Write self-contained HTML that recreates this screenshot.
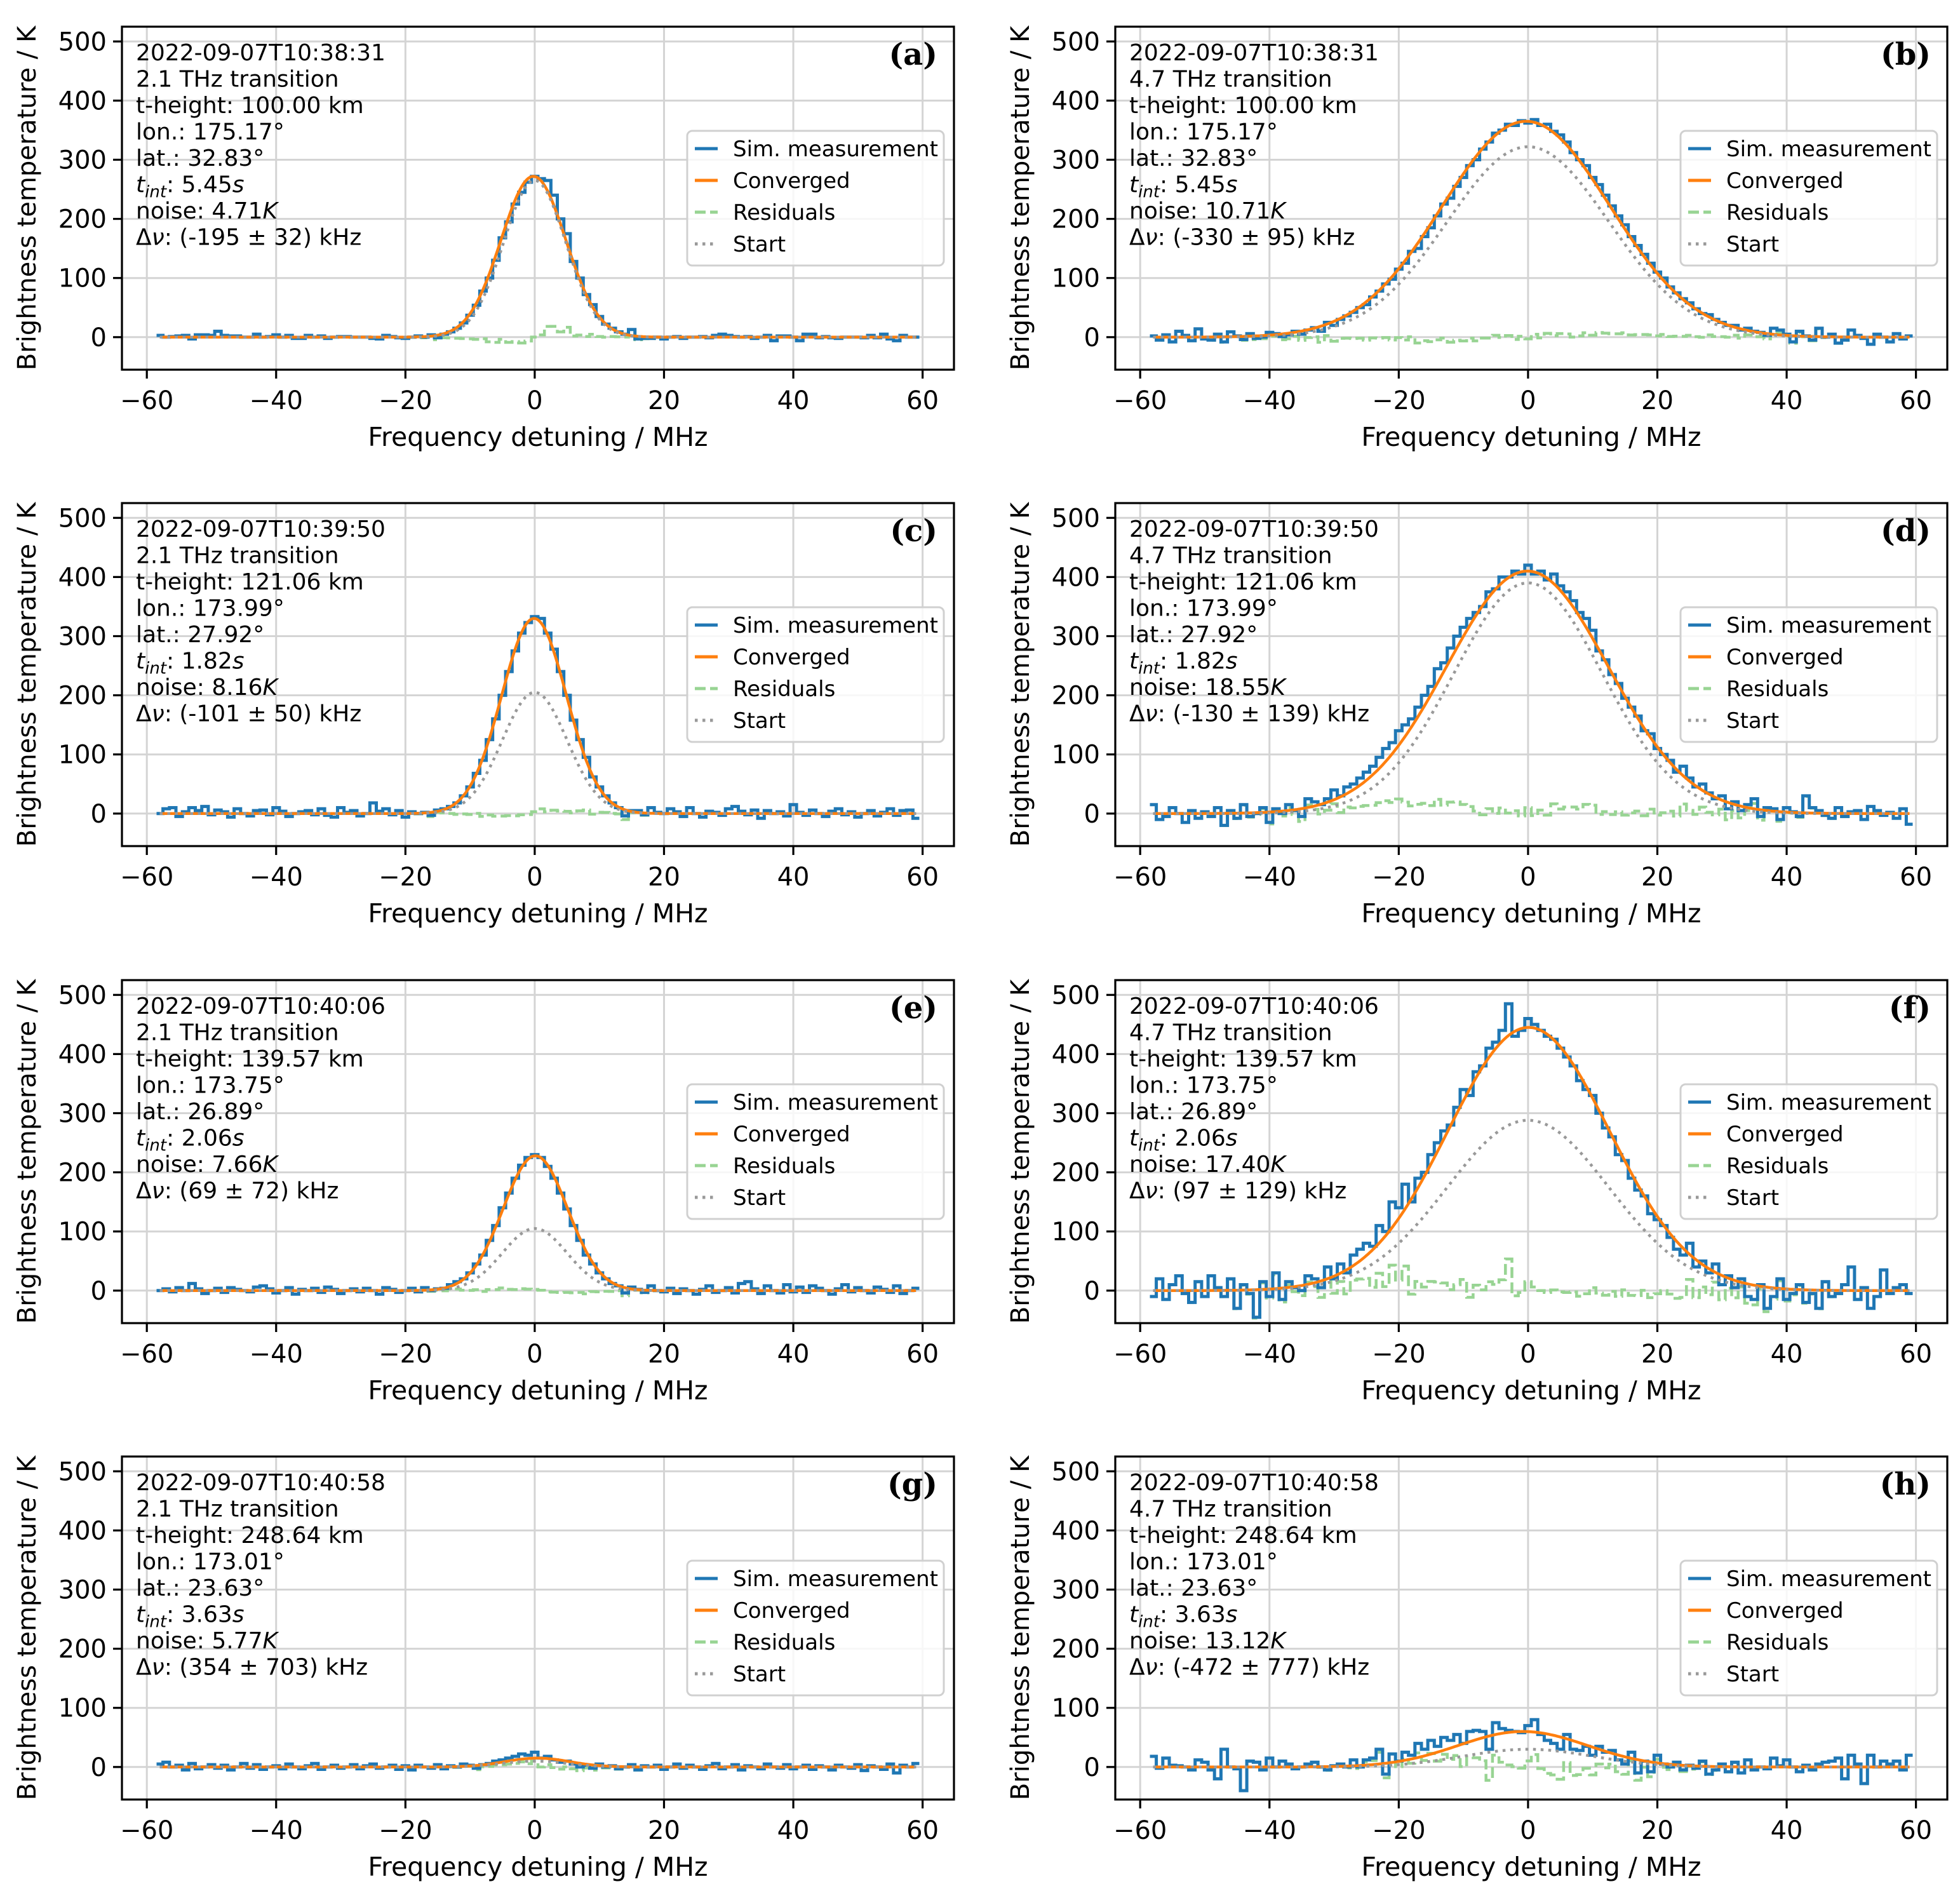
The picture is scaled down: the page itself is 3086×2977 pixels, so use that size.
<!DOCTYPE html>
<html><head><meta charset="utf-8">
<style>
html,body{margin:0;padding:0;background:#fff;}
svg{display:block;font-family:"DejaVu Sans","Liberation Sans",sans-serif;}
</style></head>
<body>
<svg id="fig" width="3086" height="2977" viewBox="0 0 3086 2977" xmlns="http://www.w3.org/2000/svg"></svg>
<script>
const binStart = -58;
const measA = [3,0,1,2,3,-3,4,4,3,10, 3,2,2,0,0,5,0,1,4,0, 3,-2,-2,3,0,2,-2,0,1,1, 0,0,0,-2,-3,3,1,-1,-2,0, 2,0,4,-1,5,9,15,24,37,54, 78,100,130,168,195,225,245,262,272,268, 265,240,200,175,128,100,72,55,35,22, 15,9,5,13,-3,-2,-2,0,-3,0, 1,-2,0,0,1,-1,3,5,3,1, 0,1,-2,0,3,-6,2,2,0,-6, 5,5,-1,1,-1,-2,0,0,0,-1, 3,-1,5,-3,-6,3,0,0];
const measB = [2,-5,4,-8,10,3,-6,14,-3,-5, 5,-8,9,2,-4,6,-2,0,8,6, 1,4,10,5,12,16,10,25,20,30, 36,42,50,55,68,78,90,98,115,125, 145,150,170,185,205,225,235,255,270,290, 300,318,330,345,350,360,358,366,362,368, 358,360,348,342,330,312,300,290,270,258, 240,222,205,190,170,155,140,125,110,100, 85,75,65,58,48,40,38,30,25,20, 20,12,15,10,8,3,15,12,5,-8, 10,2,-5,15,0,5,-10,-5,12,3, -2,-12,5,0,-8,6,-3,2];
const measC = [0,8,10,-5,3,10,5,12,-2,6, 3,-6,8,0,-4,5,6,-2,10,4, -5,0,3,5,-2,8,-3,-6,10,2, 5,-4,0,18,4,8,-2,5,-6,3, 0,2,-3,6,8,12,18,30,45,68, 90,125,160,200,240,275,305,323,333,330, 305,278,240,200,158,125,95,62,45,30, 18,10,-4,5,5,-2,10,2,0,8, 3,-5,10,0,-6,4,2,-3,8,12, 4,-2,6,-8,5,0,3,-4,15,2, -3,6,0,-5,4,8,-2,3,-6,0, 5,-4,2,8,-3,5,6,-8];
const measD = [15,-10,-5,10,0,-15,5,-8,3,-5, 10,-20,5,-8,15,-5,0,10,-15,8, 0,15,5,-5,25,20,15,25,40,30, 45,50,60,70,80,95,110,120,140,150, 160,180,200,215,245,255,280,300,315,330, 340,350,375,380,400,400,410,405,420,405, 410,395,405,385,375,360,340,330,310,275, 260,235,220,195,180,165,140,135,110,100, 90,70,80,60,45,50,35,25,30,8, 20,5,15,25,-5,10,8,-10,10,3, -5,30,10,5,-3,-8,10,-5,3,5, -10,12,5,-3,2,-8,8,-18];
const measE = [0,3,-2,5,0,12,3,-5,0,4, -3,5,2,0,-2,6,8,3,-4,0, 5,-6,2,0,4,-3,6,2,-5,0, 3,-2,4,0,-6,5,2,-3,0,4, -2,5,0,3,4,10,15,20,30,45, 60,85,110,140,165,190,212,225,230,225, 210,190,165,138,110,85,60,45,30,20, 12,8,-4,6,2,-3,8,0,-2,4, -5,3,0,-6,2,8,-3,0,5,-4, 12,15,3,-5,8,0,-4,10,-2,6, -3,8,4,0,-6,3,10,-2,5,0, -4,6,2,-3,8,-5,0,4];
const measF = [-10,20,-15,10,25,-5,-20,15,-10,25, 5,-10,20,-30,10,-5,-45,15,-10,30, -15,15,5,0,25,20,5,40,20,45, 30,60,70,80,75,110,100,150,140,180, 150,190,200,230,250,270,280,310,340,330, 370,380,410,420,440,485,430,440,460,450, 440,430,425,410,395,380,355,340,330,300, 275,260,230,220,190,170,160,130,120,110, 90,70,60,80,40,50,30,45,10,25, 5,20,-10,-15,10,-30,-10,20,-15,-5, 10,-20,-5,-30,15,-10,-5,10,40,-15, 5,-30,-10,35,-5,5,10,-5];
const measG = [5,8,0,3,-5,6,-3,0,4,-2, 3,-5,0,6,-2,4,-4,0,2,-3, 5,0,-3,2,6,-4,0,3,-2,0, 4,-3,2,5,-2,0,3,-4,2,-5, 3,0,-2,4,-3,2,0,5,3,-2, 4,6,10,12,15,18,22,20,25,15, 18,12,8,10,5,0,3,-2,5,0, 2,-3,0,4,-5,2,0,3,-4,0, 5,-2,3,0,-4,2,6,-3,0,4, -5,2,0,-3,5,0,-2,4,-3,0, 3,-4,2,0,-5,3,0,-2,4,-6, 2,0,-4,5,-10,3,0,6];
const measH = [18,-2,15,3,2,0,-5,12,8,-5, -20,30,0,-3,-40,10,8,-5,15,0, 10,5,-3,0,5,8,0,-5,2,5, 0,12,0,12,15,30,-12,22,10,25, 20,40,30,45,35,50,45,55,40,60, 62,60,30,75,65,62,60,58,70,80, 55,45,40,30,55,30,28,35,20,35, 25,28,12,5,25,-10,10,-8,20,5, 0,8,-5,3,-2,10,-12,-5,5,-8, 8,-10,12,-5,0,-3,15,2,12,0, -8,3,-5,5,8,10,15,-20,20,5, -28,20,0,10,5,10,-5,20];
const convAmp = [272,365,330,410,228,445,15,60];
const convCenter = [-0.2,-0.3,-0.1,-0.1,0.1,0.1,0.4,-0.8];
const convSigma = [5.0,13.0,5.0,12.5,5.0,12.5,5.0,10.0];
const startAmp = [265,322,205,390,105,288,10,30];
const startSigma = [4.8,12.5,5.0,11.5,5.0,12.5,5.0,10.0];
const xTicks = [-60,-40,-20,0,20,40,60];
const yTicks = [0,100,200,300,400,500];
const xTickLabels = ["\u221260","\u221240","\u221220","0","20","40","60"];
const panelLetters = ["(a)","(b)","(c)","(d)","(e)","(f)","(g)","(h)"];
const timestamps = ["2022-09-07T10:38:31","2022-09-07T10:38:31","2022-09-07T10:39:50","2022-09-07T10:39:50","2022-09-07T10:40:06","2022-09-07T10:40:06","2022-09-07T10:40:58","2022-09-07T10:40:58"];
const transitions = ["2.1","4.7","2.1","4.7","2.1","4.7","2.1","4.7"];
const heights = ["100.00","100.00","121.06","121.06","139.57","139.57","248.64","248.64"];
const lons = ["175.17","175.17","173.99","173.99","173.75","173.75","173.01","173.01"];
const lats = ["32.83","32.83","27.92","27.92","26.89","26.89","23.63","23.63"];
const tints = ["5.45","5.45","1.82","1.82","2.06","2.06","3.63","3.63"];
const noises = ["4.71","10.71","8.16","18.55","7.66","17.40","5.77","13.12"];
const dnus = ["(-195 \u00b1 32)","(-330 \u00b1 95)","(-101 \u00b1 50)","(-130 \u00b1 139)","(69 \u00b1 72)","(97 \u00b1 129)","(354 \u00b1 703)","(-472 \u00b1 777)"];
const measAll = [measA,measB,measC,measD,measE,measF,measG,measH];

const NS = "http://www.w3.org/2000/svg";
const fig = document.getElementById('fig');
function mk(tag, attrs, parent){ const e=document.createElementNS(NS,tag); for(const k in attrs) e.setAttribute(k,attrs[k]); (parent||fig).appendChild(e); return e; }
const colX = [192, 1756], rowY = [42, 792, 1543, 2293];
const W = 1310, H = 540, XMIN=-63.85, XMAX=64.85, YMIN=-55, YMAX=525;
function gauss(x,a,c,s){ return a*Math.exp(-(x-c)*(x-c)/(2*s*s)); }

for(let p=0;p<8;p++){
  const L = colX[p%2], T = rowY[Math.floor(p/2)];
  const sx = v => L + (v-XMIN)/(XMAX-XMIN)*W;
  const sy = v => T + H - (v-YMIN)/(YMAX-YMIN)*H;
  const g = mk('g',{});
  
  
  const clipId='clip'+p;
  const cp = mk('clipPath',{id:clipId},g); mk('rect',{x:L,y:T,width:W,height:H},cp);
  xTicks.forEach(t=>{ const l=mk('line',{x1:sx(t),x2:sx(t),y1:T,y2:T+H,stroke:'#d4d4d4','stroke-width':3},g);   });
  yTicks.forEach(t=>{ const l=mk('line',{x1:L,x2:L+W,y1:sy(t),y2:sy(t),stroke:'#d4d4d4','stroke-width':3},g);   });
  const m = measAll[p];
  const conv = m.map((v,i)=>gauss(binStart+i,convAmp[p],convCenter[p],convSigma[p]));
  function stepPath(vals){ let d=''; vals.forEach((v,i)=>{ const x=binStart+i; d += (i===0?'M':'L')+sx(x-0.5).toFixed(1)+','+sy(v).toFixed(1)+'L'+sx(x+0.5).toFixed(1)+','+sy(v).toFixed(1); }); return d; }
  function smoothPath(fn){ let d=''; for(let x=binStart;x<=binStart+m.length-1+0.001;x+=0.25){ d+=(d?'L':'M')+sx(x).toFixed(1)+','+sy(fn(x)).toFixed(1);} return d; }
  const cg = mk('g',{'clip-path':'url(#'+clipId+')'},g);
  const res = mk('path',{d:stepPath(m.map((v,i)=>v-conv[i])),fill:'none',stroke:'#98d493','stroke-width':4.5,'stroke-dasharray':'17,7'},cg);
   
  const ms = mk('path',{d:stepPath(m),fill:'none',stroke:'#1f77b4','stroke-width':5},cg);
   
  const cv = mk('path',{d:smoothPath(x=>gauss(x,convAmp[p],convCenter[p],convSigma[p])),fill:'none',stroke:'#ff7f0e','stroke-width':4.5},cg);
   
  const st = mk('path',{d:smoothPath(x=>gauss(x,startAmp[p],0,startSigma[p])),fill:'none',stroke:'#999999','stroke-width':4.5,'stroke-dasharray':'4.5,7.5'},cg);
   
  const fr = mk('rect',{x:L,y:T,width:W,height:H,fill:'none',stroke:'#000','stroke-width':3.2},g);
   
  xTicks.forEach((t,i)=>{
    mk('line',{x1:sx(t),x2:sx(t),y1:T+H,y2:T+H+14,stroke:'#000','stroke-width':3.2},g);
    const tx=mk('text',{x:sx(t),y:T+H+62,'font-size':40,'text-anchor':'middle',fill:'#000'},g); tx.textContent=xTickLabels[i];
     
  });
  yTicks.forEach(t=>{
    mk('line',{x1:L-14,x2:L,y1:sy(t),y2:sy(t),stroke:'#000','stroke-width':3.2},g);
    const tx=mk('text',{x:L-24,y:sy(t)+14,'font-size':40,'text-anchor':'end',fill:'#000'},g); tx.textContent=String(t);
     
  });
  const xl=mk('text',{x:L+W/2,y:T+H+120,'font-size':41,'text-anchor':'middle',fill:'#000'},g); xl.textContent='Frequency detuning / MHz';
   
  const yl=mk('text',{x:0,y:0,'font-size':40,'text-anchor':'middle',fill:'#000',transform:'translate('+(L-136)+','+(T+H/2)+') rotate(-90)'},g); yl.textContent='Brightness temperature / K';
   
  const info = mk('text',{x:L+22,y:T+53,'font-size':36,fill:'#000'},g);
   
  const tx0 = L+22;
  info.innerHTML =
    '<tspan x="'+tx0+'" dy="0">'+timestamps[p]+'</tspan>'+
    '<tspan x="'+tx0+'" dy="41.5">'+transitions[p]+' THz transition</tspan>'+
    '<tspan x="'+tx0+'" dy="41.5">t-height: '+heights[p]+' km</tspan>'+
    '<tspan x="'+tx0+'" dy="41.5">lon.: '+lons[p]+'\u00b0</tspan>'+
    '<tspan x="'+tx0+'" dy="41.5">lat.: '+lats[p]+'\u00b0</tspan>'+
    '<tspan x="'+tx0+'" dy="41.5" font-style="italic">t</tspan><tspan font-style="italic" font-size="26" dy="8">int</tspan><tspan dy="-8">: '+tints[p]+'</tspan><tspan font-style="italic">s</tspan>'+
    '<tspan x="'+tx0+'" dy="41.5">noise: '+noises[p]+'</tspan><tspan font-style="italic">K</tspan>'+
    '<tspan x="'+tx0+'" dy="41.5">\u0394</tspan><tspan font-style="italic">\u03bd</tspan><tspan>: '+dnus[p]+' kHz</tspan>';
  const lt = mk('text',{x:L+W-26,y:T+60,'font-size':48,'font-weight':'bold','text-anchor':'end',fill:'#000','font-family':'"DejaVu Serif","Liberation Serif",serif'},g);
  lt.textContent=panelLetters[p];
   
  const lg = mk('g',{},g);
   
  mk('rect',{x:L+890,y:T+164,width:404,height:212,rx:8,fill:'#fff','fill-opacity':0.8,stroke:'#d0d0d0','stroke-width':3},lg);
  const names=['Sim. measurement','Converged','Residuals','Start'];
  const cols=['#1f77b4','#ff7f0e','#98d493','#999999'];
  const dash=['','','17,7','4.5,7.5'];
  names.forEach((n,i)=>{
    const cy=T+192+i*50;
    const ln=mk('line',{x1:L+902,x2:L+938,y1:cy,y2:cy,stroke:cols[i],'stroke-width':5},lg);
    if(dash[i]) ln.setAttribute('stroke-dasharray',dash[i]);
    const t=mk('text',{x:L+962,y:cy+12,'font-size':34,fill:'#000'},lg); t.textContent=n;
     
  });
}
</script>
</body></html>
